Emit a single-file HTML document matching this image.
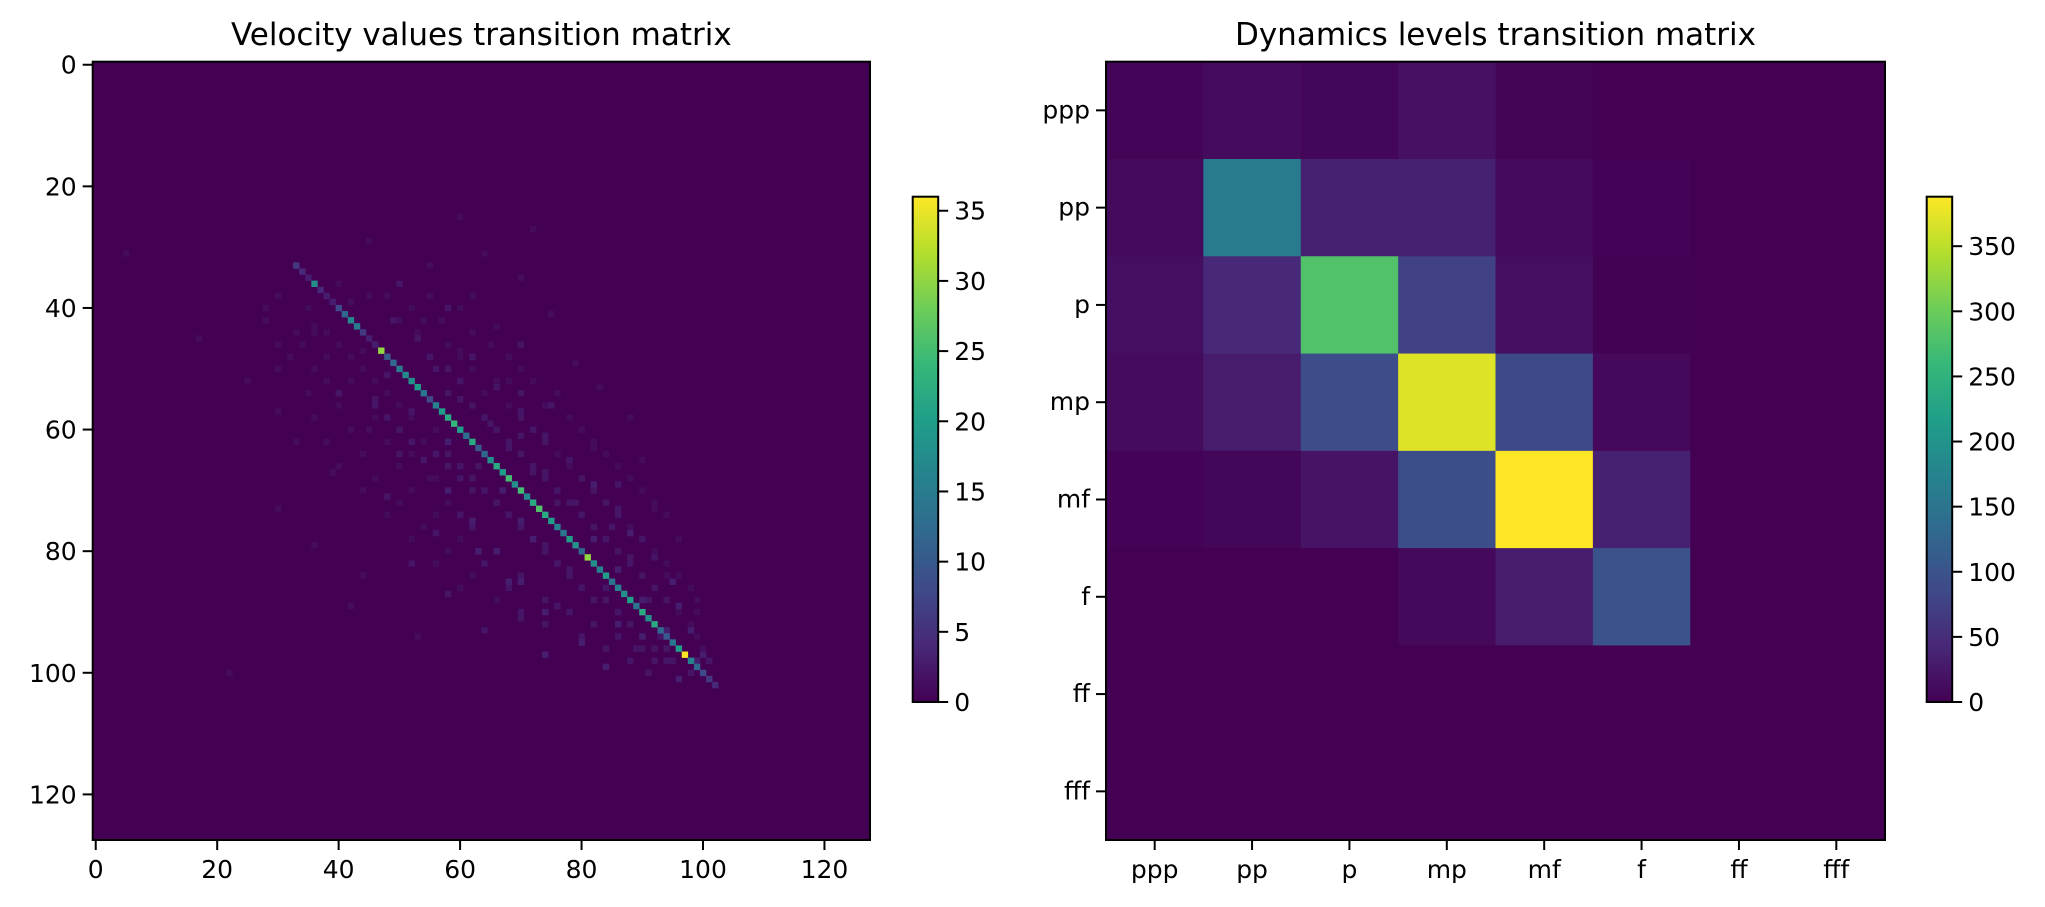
<!DOCTYPE html>
<html><head><meta charset="utf-8"><style>
html,body{margin:0;padding:0;background:#fff;}
svg{display:block;font-family:"DejaVu Sans","Liberation Sans",sans-serif;}
</style></head><body>
<svg id="c" width="2045" height="907" viewBox="0 0 2045 907"></svg>
<script>
// ---- left chart data (velocity) ----
const velDiagIdx = [33,34,35,36,37,38,39,40,41,42,43,44,45,46,47,48,49,50,51,52,53,54,55,56,57,58,59,60,61,62,63,64,65,66,67,68,69,70,71,72,73,74,75,76,77,78,79,80,81,82,83,84,85,86,87,88,89,90,91,92,93,94,95,96,97,98,99,100,101,102];
const velDiagVal = [6,4,3,18,4,3,3,8,12,17,15,6,3,3,30,10,12,15,17,18,20,14,8,16,20,22,24,20,13,22,10,12,18,22,20,25,18,25,17,22,26,22,20,16,14,20,18,12,30,18,16,20,14,16,18,20,14,22,18,22,12,10,14,20,36,16,12,8,6,4];
const noiseRow = [25,27,29,31,33,35,36,38,39,40,41,42,43,44,45,46,47,48,49,50,51,52,53,54,55,56,57,58,59,60,61,62,63,64,65,66,67,68,69,70,71,72,73,74,75,76,77,78,79,80,81,82,83,84,85,86,87,88,89,90,91,92,93,94,95,96,97,98,99,100,
 40,44,48,52,56,60,64,68,72,76,80,84,88,92,96,100,46,50,54,58,62,66,70,74,78,82,86,90,94,98,42,47,53,57,61,65,69,73,77,81,85,89,93,97,
 36,38,55,60,65,70,75,80,85,90,95,43,58,63,67,72,78,83,88,93,98,101,31,45,52,57,62,67,73,79,84,89,94,100];
const noiseCol = [60,72,45,64,55,70,50,62,42,58,75,49,66,38,53,70,44,62,79,56,48,68,83,40,60,75,52,88,65,45,70,58,82,50,90,63,74,55,86,67,48,79,92,60,70,85,56,96,74,63,88,52,78,94,68,84,58,91,76,99,70,86,64,93,80,89,74,101,84,91,
 28,33,38,42,46,50,56,60,66,70,74,78,84,88,92,98,30,36,40,48,52,58,62,68,72,76,80,86,90,94,54,60,66,70,74,78,82,86,88,92,95,96,98,100,
 40,45,46,50,54,58,62,66,70,74,80,36,64,68,72,76,82,86,90,94,99,96,5,17,25,30,33,39,30,36,44,42,53,22];
const noiseVal = [1,1,1,1,1,1,2,1,1,2,1,2,1,1,2,2,1,2,1,2,2,1,1,1,2,2,2,1,2,1,2,3,1,2,1,2,2,1,2,3,2,2,1,2,3,2,2,1,2,3,2,2,2,1,3,2,2,2,2,1,2,3,2,2,3,2,3,2,3,2,
 1,1,1,1,2,2,2,2,2,2,2,2,2,2,2,2,1,1,2,2,2,2,2,2,3,2,2,2,3,2,1,1,2,2,2,2,3,2,3,2,3,3,3,3,
 1,1,2,2,2,3,3,3,3,3,3,1,2,2,2,2,3,3,3,3,3,3,1,1,1,1,1,1,1,1,1,1,1,1];
const faintRow = [38,38,38,40,40,40,42,42,42,44,44,44,46,46,46,46,48,48,48,48,48,50,50,50,50,50,52,52,52,52,52,54,54,54,54,54,54,56,56,56,56,56,58,58,58,58,58,58,60,60,60,60,60,60,62,62,62,62,62,62,64,64,64,64,64,64,66,66,66,66,66,66,68,68,68,68,68,68,70,70,70,70,70,70,72,72,72,72,72,72,74,74,74,74,74,74,76,76,76,76,76,78,78,78,78,78,78,80,80,80,80,80,82,82,82,82,82,84,84,84,84,84,86,86,86,86,86,88,88,88,88,88,90,90,90,90,92,92,92,92,94,94,94,94,96,96,96,96,98,98,98,98];
const faintCol = [30,48,55,35,52,60,28,50,57,36,53,62,34,40,58,65,32,42,55,60,68,30,44,58,62,70,38,46,60,66,72,35,48,58,64,70,76,40,50,62,68,74,36,46,52,64,70,78,42,50,56,66,72,80,38,48,54,68,74,82,44,52,58,70,76,84,40,50,60,72,78,86,46,56,62,74,80,88,44,52,64,76,82,90,50,58,66,78,84,92,48,56,68,80,86,94,54,62,70,82,88,52,60,72,84,90,96,58,66,74,86,92,56,64,76,88,94,62,70,78,90,96,60,68,80,92,98,66,74,82,94,99,70,78,86,96,74,82,88,98,80,86,90,99,84,90,94,100,88,92,95,101];
const faintVal = [1,1,1,1,1,1,1,1,1,1,1,1,1,1,1,1,1,1,2,1,1,1,1,2,1,1,1,1,2,1,1,1,1,2,1,2,1,1,1,2,1,1,1,1,1,2,2,1,1,1,1,2,2,1,1,1,1,2,2,1,1,1,2,2,1,1,1,1,2,2,1,1,1,1,2,2,2,1,1,1,2,2,2,1,1,1,2,2,2,1,1,1,2,2,2,1,1,2,2,2,1,1,1,2,2,2,1,1,2,2,2,1,1,2,2,2,1,1,2,2,2,1,1,2,2,2,1,1,2,2,2,1,2,2,2,1,2,2,2,1,2,2,2,1,2,2,2,1,2,2,2,1];
const velTicks = [0,20,40,60,80,100,120];
const velCbTicks = [0,5,10,15,20,25,30,35];
const velMax = 36;
// ---- right chart data (dynamics) ----
const dynLabels = ["ppp","pp","p","mp","mf","f","ff","fff"];
const dynRow0 = [3,12,5,18,4,0,0,0];
const dynRow1 = [10,160,35,35,10,2,0,0];
const dynRow2 = [15,45,280,75,15,1,0,0];
const dynRow3 = [12,30,90,370,85,8,0,0];
const dynRow4 = [2,5,20,92,388,35,0,0];
const dynRow5 = [0,0,0,8,30,100,0,0];
const dynRow6 = [0,0,0,0,0,0,0,0];
const dynRow7 = [0,0,0,0,0,0,0,0];
const dynRows = [dynRow0,dynRow1,dynRow2,dynRow3,dynRow4,dynRow5,dynRow6,dynRow7];
const dynCbTicks = [0,50,100,150,200,250,300,350];
const dynMax = 388;

const NS="http://www.w3.org/2000/svg";
const svg=document.getElementById('c');
function mk(tag,attrs,parent){const e=document.createElementNS(NS,tag);for(const k in attrs)e.setAttribute(k,attrs[k]);(parent||svg).appendChild(e);return e;}
const VIR=[[68,1,84],[72,40,120],[62,74,137],[49,104,142],[38,130,142],[31,158,137],[53,183,121],[109,205,89],[180,222,44],[253,231,37]];
function viridis(t){t=Math.max(0,Math.min(1,t));const p=t*9;const i=Math.min(8,Math.floor(p));const f=p-i;const a=VIR[i],b=VIR[i+1];return `rgb(${Math.round(a[0]+(b[0]-a[0])*f)},${Math.round(a[1]+(b[1]-a[1])*f)},${Math.round(a[2]+(b[2]-a[2])*f)})`;}

const AX={y0:61.7,h:778.3};
function txt(x,y,s,anchor,size,g,name){const t=mk('text',{x:x,y:y,'text-anchor':anchor,'font-size':size,fill:'#000'},g);t.textContent=s;return t;}

// ===== left =====
const L={x0:92.7,w:777.3,n:128};
const gL=mk('g',{});


const lx=v=>L.x0+(v+0.5)*L.w/L.n;
const ly=v=>AX.y0+(v+0.5)*AX.h/L.n;
const lc=L.w/L.n, lch=AX.h/L.n;
mk('rect',{x:L.x0,y:AX.y0,width:L.w,height:AX.h,fill:viridis(0)},gL);
for(let i=0;i<faintRow.length;i++){
  const r=mk('rect',{x:lx(faintCol[i])-lc/2,y:ly(faintRow[i])-lch/2,width:lc+0.3,height:lch+0.3,fill:viridis(faintVal[i]/velMax)},gL);
  
  
}
for(let i=0;i<noiseRow.length;i++){
  const r=mk('rect',{x:lx(noiseCol[i])-lc/2,y:ly(noiseRow[i])-lch/2,width:lc+0.3,height:lch+0.3,fill:viridis(noiseVal[i]/velMax)},gL);
  
  
}
for(let i=0;i<velDiagIdx.length;i++){
  const r=mk('rect',{x:lx(velDiagIdx[i])-lc/2,y:ly(velDiagIdx[i])-lch/2,width:lc+0.3,height:lch+0.3,fill:viridis(velDiagVal[i]/velMax)},gL);
  
  
}
mk('rect',{x:L.x0,y:AX.y0,width:L.w,height:AX.h,fill:'none',stroke:'#000','stroke-width':2},gL);
velTicks.forEach(v=>{
  mk('line',{x1:lx(v),x2:lx(v),y1:AX.y0+AX.h,y2:AX.y0+AX.h+10,stroke:'#000','stroke-width':2},gL);
  txt(lx(v),AX.y0+AX.h+38,String(v),'middle',25,gL,'x-tick-label');
  mk('line',{x1:L.x0-10,x2:L.x0,y1:ly(v),y2:ly(v),stroke:'#000','stroke-width':2},gL);
  txt(L.x0-16,ly(v)+9,String(v),'end',25,gL,'y-tick-label');
});
txt(L.x0+L.w/2,45,'Velocity values transition matrix','middle',31,gL,'left-title');

// ===== colorbars =====
function colorbar(x,w,y0,y1,max,ticks,name,gid){
  const g=mk('g',{});
  
  
  const grad=mk('linearGradient',{id:gid,x1:0,y1:1,x2:0,y2:0},g);
  for(let i=0;i<=9;i++)mk('stop',{offset:i/9,'stop-color':viridis(i/9)},grad);
  mk('rect',{x:x,y:y0,width:w,height:y1-y0,fill:`url(#${gid})`,stroke:'#000','stroke-width':2},g);
  ticks.forEach(v=>{const y=y1-(v/max)*(y1-y0);
    mk('line',{x1:x+w,x2:x+w+10,y1:y,y2:y,stroke:'#000','stroke-width':2},g);
    txt(x+w+16,y+9,String(v),'start',25,g,'colorbar-tick-label');});
}
colorbar(912.7,25.5,196.7,702,velMax,velCbTicks,'velocity-colorbar','g1');
colorbar(1926.7,25.5,196.7,702,dynMax,dynCbTicks,'dynamics-colorbar','g2');

// ===== right =====
const R={x0:1106,w:779,n:8};
const gR=mk('g',{});


const rc=R.w/R.n, rch=AX.h/R.n;
const rx=i=>R.x0+(i+0.5)*rc;
const ry=i=>AX.y0+(i+0.5)*rch;
dynRows.forEach((row,ri)=>row.forEach((v,ci)=>{
  const r=mk('rect',{x:rx(ci)-rc/2,y:ry(ri)-rch/2,width:rc+0.5,height:rch+0.5,fill:viridis(v/dynMax)},gR);
  
  
}));
mk('rect',{x:R.x0,y:AX.y0,width:R.w,height:AX.h,fill:'none',stroke:'#000','stroke-width':2},gR);
dynLabels.forEach((s,i)=>{
  mk('line',{x1:rx(i),x2:rx(i),y1:AX.y0+AX.h,y2:AX.y0+AX.h+10,stroke:'#000','stroke-width':2},gR);
  txt(rx(i),AX.y0+AX.h+38,s,'middle',25,gR,'x-tick-label');
  mk('line',{x1:R.x0-10,x2:R.x0,y1:ry(i),y2:ry(i),stroke:'#000','stroke-width':2},gR);
  txt(R.x0-16,ry(i)+8,s,'end',25,gR,'y-tick-label');
});
txt(R.x0+R.w/2,45,'Dynamics levels transition matrix','middle',31,gR,'right-title');
</script>
</body></html>
